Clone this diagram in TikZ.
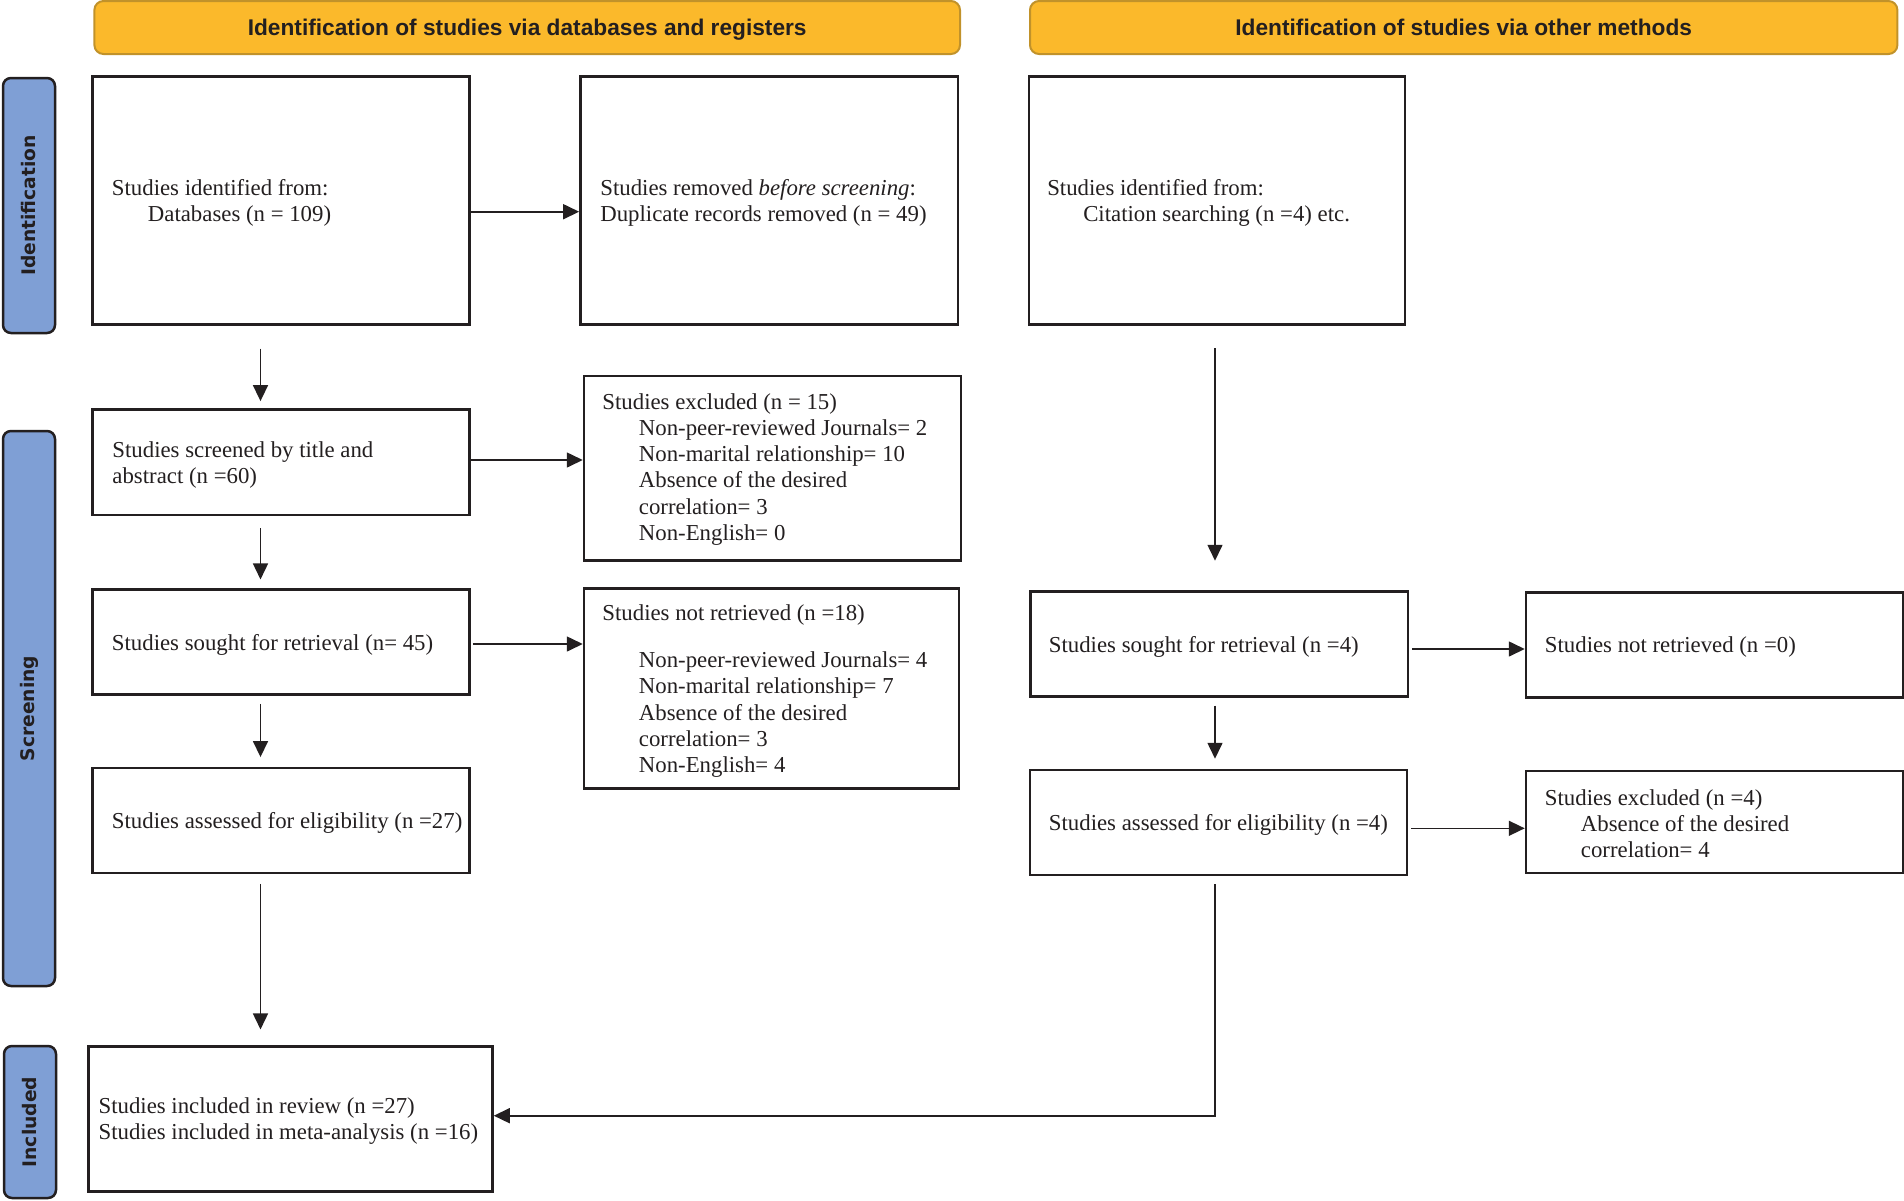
\documentclass[tikz,border=0pt]{standalone}
\usepackage{fontspec}
\setmainfont{Liberation Serif}
\newfontfamily\hdrfont{Liberation Sans}
\newfontfamily\sidefont{DejaVu Sans}
\usetikzlibrary{arrows.meta}
\definecolor{ink}{HTML}{231F20}
\definecolor{hdrfill}{HTML}{FBB92B}
\definecolor{hdrline}{HTML}{C1922A}
\definecolor{sidefill}{HTML}{7F9FD5}
\begin{document}
\begin{tikzpicture}[x=1pt,y=-1pt,
  box/.style={draw=ink, line width=2.5pt, fill=white, inner sep=0pt, rectangle},
  txt/.style={font=\fontsize{22.8}{26.3}\selectfont, text=ink, align=left, inner sep=0pt, anchor=west},
  hdr/.style={draw=hdrline, line width=2pt, fill=hdrfill, rounded corners=9pt, inner sep=0pt},
  hdrtext/.style={inner sep=0pt, text height=16.5pt, text depth=4.8pt, font=\hdrfont\bfseries\fontsize{22.7}{27}\selectfont, text=ink},
  side/.style={draw=ink, line width=2.5pt, fill=sidefill, rounded corners=8pt, inner sep=0pt, rotate=90, font=\sidefont\bfseries\fontsize{18.7}{22}\selectfont, text=ink},
  arr/.style={draw=ink, line width=1.6pt, -{Triangle[length=16pt,width=15pt]}}
]
\useasboundingbox (0,0) rectangle (1904,1200);

% headers
\node[hdr, minimum width=865.6pt, minimum height=53pt] (H1) at (527.2,27.5) {};
\node[hdrtext] (H1t) at ([yshift=-2.5pt]H1.center) {Identification of studies via databases and registers};
\node[hdr, minimum width=867.4pt, minimum height=53pt] (H2) at (1463.7,27.5) {};
\node[hdrtext] (H2t) at ([yshift=-2.5pt]H2.center) {Identification of studies via other methods};

% side labels
\node[side, minimum width=255pt, minimum height=52pt] (sI) at (29,205.5) {Identification};
\node[side, minimum width=555pt, minimum height=52pt] (sS) at (29,708.5) {Screening};
\node[side, minimum width=152pt, minimum height=52pt] (sN) at (30,1122) {Included};

% boxes
\node[box, minimum width=377pt, minimum height=248pt] (A) at (281,200.3) {};
\node[box, minimum width=377.6pt, minimum height=248pt] (B) at (769.2,200.3) {};
\node[box, minimum width=376.2pt, minimum height=248pt] (C) at (1216.9,200.5) {};
\node[box, minimum width=377pt, minimum height=105.7pt] (D) at (281,462.2) {};
\node[box, minimum width=377pt, minimum height=184.7pt] (E) at (772.5,468.3) {};
\node[box, minimum width=377pt, minimum height=105pt] (F) at (281,641.8) {};
\node[box, minimum width=375pt, minimum height=199.6pt] (G) at (771.5,688.5) {};
\node[box, minimum width=377pt, minimum height=105pt] (H) at (281,820.5) {};
\node[box, minimum width=403.8pt, minimum height=145pt] (I) at (290.6,1119.2) {};
\node[box, minimum width=377.5pt, minimum height=105pt] (J) at (1219.2,644.2) {};
\node[box, minimum width=377.4pt, minimum height=104.6pt] (K) at (1714.7,645) {};
\node[box, minimum width=377pt, minimum height=105pt] (L) at (1218.5,822.5) {};
\node[box, minimum width=377.4pt, minimum height=102pt] (M) at (1714.7,822) {};

% texts
\node[txt] (tA) at ([xshift=20.5pt,yshift=-2.5pt]A.west) {Studies identified from:\\\hspace*{36pt}Databases (n = 109)};
\node[txt] (tB) at ([xshift=21pt,yshift=-2.5pt]B.west) {Studies removed \textit{before screening}:\\Duplicate records removed (n = 49)};
\node[txt] (tC) at ([xshift=19.5pt,yshift=-2.5pt]C.west) {Studies identified from:\\\hspace*{36pt}Citation searching (n =4) etc.};
\node[txt] (tD) at ([xshift=21pt,yshift=-3pt]D.west) {Studies screened by title and\\abstract (n =60)};
\node[txt] (tE) at ([xshift=19.5pt,yshift=-1pt]E.west) {Studies excluded (n = 15)\\\hspace*{36.5pt}Non-peer-reviewed Journals= 2\\\hspace*{36.5pt}Non-marital relationship= 10\\\hspace*{36.5pt}Absence of the desired\\\hspace*{36.5pt}correlation= 3\\\hspace*{36.5pt}Non-English= 0};
\node[txt] (tF) at ([xshift=20.5pt,yshift=-3pt]F.west) {Studies sought for retrieval (n= 45)};
\node[txt] (tG) at ([xshift=19.5pt,yshift=-2.5pt]G.west) {Studies not retrieved (n =18)\\[21pt]\hspace*{36.5pt}Non-peer-reviewed Journals= 4\\\hspace*{36.5pt}Non-marital relationship= 7\\\hspace*{36.5pt}Absence of the desired\\\hspace*{36.5pt}correlation= 3\\\hspace*{36.5pt}Non-English= 4};
\node[txt] (tH) at ([xshift=20.5pt,yshift=-2.5pt]H.west) {Studies assessed for eligibility (n =27)};
\node[txt] (tI) at ([xshift=11pt,yshift=-2pt]I.west) {Studies included in review (n =27)\\Studies included in meta-analysis (n =16)};
\node[txt] (tJ) at ([xshift=19.5pt,yshift=-2.5pt]J.west) {Studies sought for retrieval (n =4)};
\node[txt] (tK) at ([xshift=20pt,yshift=-2.5pt]K.west) {Studies not retrieved (n =0)};
\node[txt] (tL) at ([xshift=20pt,yshift=-2.5pt]L.west) {Studies assessed for eligibility (n =4)};
\node[txt] (tM) at ([xshift=20pt,yshift=-1.5pt]M.west) {Studies excluded (n =4)\\\hspace*{36pt}Absence of the desired\\\hspace*{36pt}correlation= 4};

% helper coordinates
\coordinate (xL) at (260.5,0);
\coordinate (xR) at (1215,0);
\coordinate (yAB) at (0,211.7);
\coordinate (yDE) at (0,460);
\coordinate (yFG) at (0,644);
\coordinate (yJK) at (0,649);
\coordinate (yLM) at (0,828.3);
\coordinate (yLI) at (0,1115.7);

% horizontal connectors
\draw[arr] (A.east |- yAB) -- (B.west |- yAB);
\draw[arr] (D.east |- yDE) -- (E.west |- yDE);
\draw[arr, shorten <=2pt] (F.east |- yFG) -- (G.west |- yFG);
\draw[arr, shorten <=3pt] (J.east |- yJK) -- (K.west |- yJK);
\draw[arr, shorten <=3pt] (L.east |- yLM) -- (M.west |- yLM);

% vertical connectors
\draw[arr, shorten <=23pt, shorten >=7pt] (A.south -| xL) -- (D.north -| xL);
\draw[arr, shorten <=11.7pt, shorten >=8.6pt] (D.south -| xL) -- (F.north -| xL);
\draw[arr, shorten <=8.4pt, shorten >=9.7pt] (F.south -| xL) -- (H.north -| xL);
\draw[arr, shorten <=9.7pt, shorten >=16pt] (H.south -| xL) -- (I.north -| xL);
\draw[arr, shorten <=22.4pt, shorten >=29.7pt] (C.south -| xR) -- (J.north -| xR);
\draw[arr, shorten <=7.6pt, shorten >=10pt] (J.south -| xR) -- (L.north -| xR);
\draw[arr, shorten <=8pt] (L.south -| xR) -- (xR |- yLI) -- (I.east |- yLI);
\end{tikzpicture}
\end{document}
